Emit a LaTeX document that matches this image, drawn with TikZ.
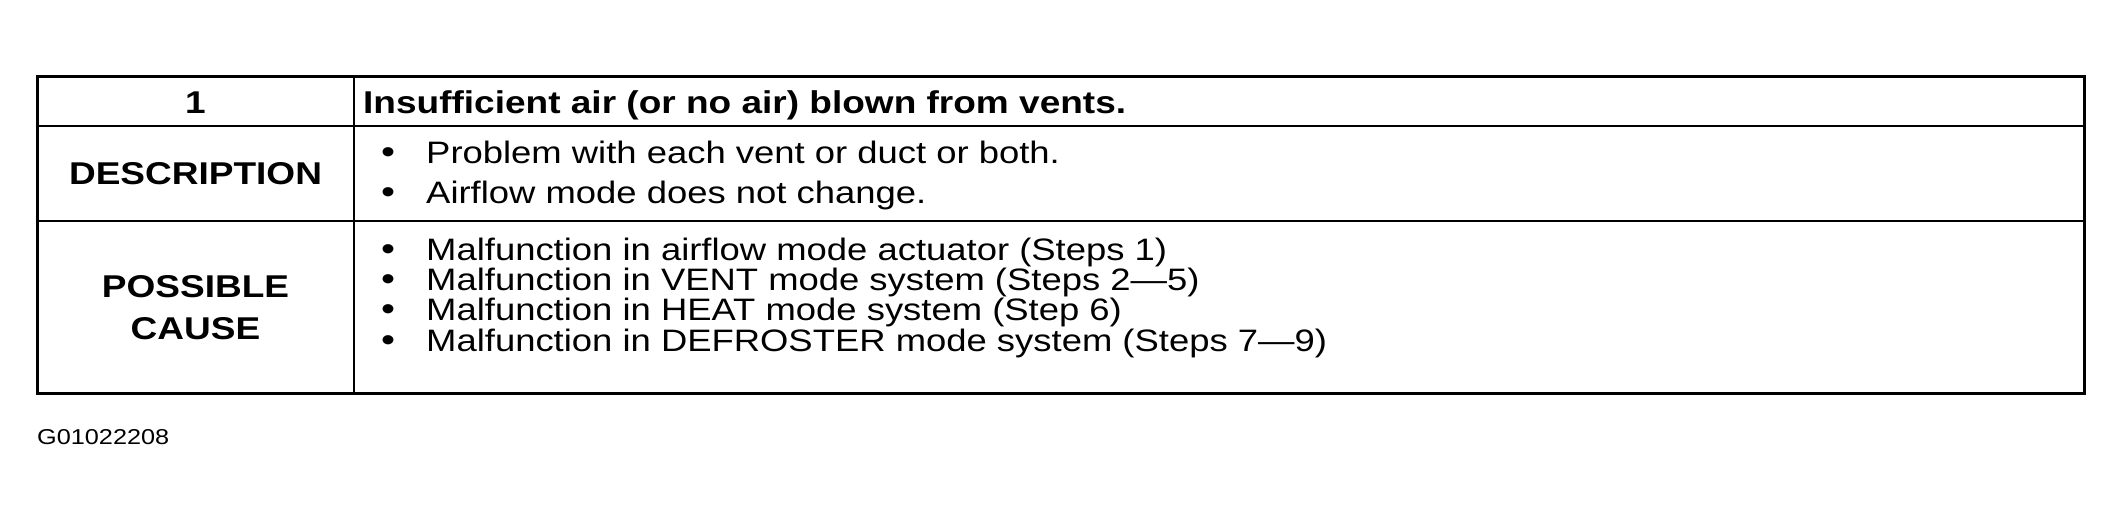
\documentclass[tikz,border=0pt]{standalone}
\usepackage{fontspec}
\newfontfamily\tabfont{Liberation Sans}[FakeStretch=1.175]
\begin{document}
\begin{tikzpicture}[x=1pt,y=-1pt,
  outerline/.style={line width=3pt},
  innerline/.style={line width=1.8pt},
  bodytext/.style={font=\tabfont\fontsize{31}{34}\selectfont, inner sep=0pt, anchor=base west},
  bullettext/.style={font=\tabfont\fontsize{34}{36}\selectfont, inner sep=0pt, anchor=base},
  headtext/.style={font=\tabfont\bfseries\fontsize{31.5}{34}\selectfont, inner sep=0pt, anchor=base},
  codetext/.style={font=\tabfont\fontsize{21.5}{24}\selectfont, inner sep=0pt, anchor=base west}]
\useasboundingbox (0,0) rectangle (2124,514);
% table frame
\coordinate (tl) at (37,76);
\coordinate (br) at (2084,393);
\draw[outerline] (tl) rectangle (br);
\draw[innerline] (37,126) -- (2084,126);
\draw[innerline] (37,221) -- (2084,221);
\draw[innerline] (354,76) -- (354,393);
% row 1
\node[headtext] (num) at (195.5,113) {1};
\node[headtext, anchor=base west] (title) at (363,113) {Insufficient air (or no air) blown from vents.};
% row 2
\node[headtext] (desc) at (195.5,184) {DESCRIPTION};
\node[bullettext] (b1) at (388,163.6) {•};
\node[bodytext] (d1) at (426,163.6) {Problem with each vent or duct or both.};
\node[bullettext] (b2) at (388,203.1) {•};
\node[bodytext] (d2) at (426,203.1) {Airflow mode does not change.};
% row 3
\node[headtext] (poss) at (195.5,297) {POSSIBLE};
\node[headtext] (cause) at (195.5,339) {CAUSE};
\node[bullettext] (b3) at (388,260) {•};
\node[bodytext] (c1) at (426,260) {Malfunction in airflow mode actuator (Steps 1)};
\node[bullettext] (b4) at (388,290) {•};
\node[bodytext] (c2) at (426,290) {Malfunction in VENT mode system (Steps 2—5)};
\node[bullettext] (b5) at (388,320) {•};
\node[bodytext] (c3) at (426,320) {Malfunction in HEAT mode system (Step 6)};
\node[bullettext] (b6) at (388,351) {•};
\node[bodytext] (c4) at (426,351) {Malfunction in DEFROSTER mode system (Steps 7—9)};
% figure code
\node[codetext] (code) at (37,444) {G01022208};
\end{tikzpicture}
\end{document}
